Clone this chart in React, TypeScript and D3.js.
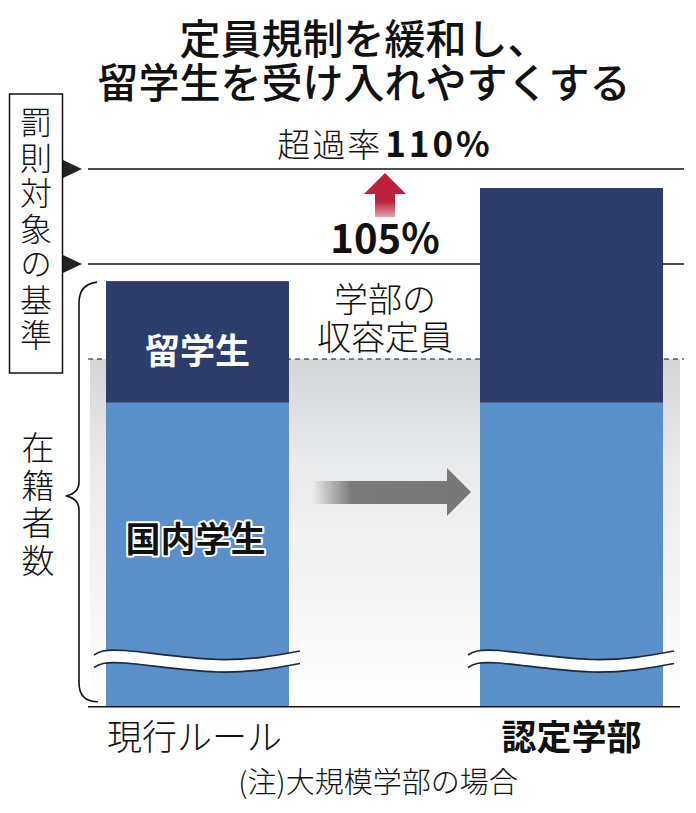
import React from "react";
import * as d3 from "d3";

const categories = ["現行ルール", "認定学部"];
const categoryBold = [false, true];
const domesticTop = [97.7, 97.7];
const totalTop = [104.1, 109.0];
const thresholds = [105, 110];
const thresholdLabels = ["105%", "110%"];
const capacity = 100;
const baseValue = 81.7;
const titleLines = ["定員規制を緩和し、", "留学生を受け入れやすくする"];
const sideTop = "罰則対象の基準";
const sideBottom = "在籍者数";
const capacityLabel = ["学部の", "収容定員"];
const segLabels = ["留学生", "国内学生"];
const note = "(注)大規模学部の場合";

const W = 696;
const H = 813;
const FONT = "'Noto Sans CJK JP', 'Noto Sans', sans-serif";

export default function App() {
  const y = d3.scaleLinear().domain([100, 110]).range([359, 169]);
  const x = d3.scalePoint<string>().domain(categories).range([197.5, 571.5]);
  const barW = 183;
  const lineX0 = 88;
  const lineX1 = 684;
  const yBase = y(baseValue);

  const waveNorm: [number, number][] = [
    [0, 4], [0.15, -0.5], [0.6, 8.5], [1, 0],
  ];
  const waveLine = (x0: number, x1: number, yc: number) =>
    d3.line<[number, number]>()
      .x((d) => x0 + d[0] * (x1 - x0))
      .y((d) => yc + d[1])
      .curve(d3.curveNatural)(waveNorm) as string;
  const waveArea = (x0: number, x1: number, yc: number, th: number) =>
    d3.area<[number, number]>()
      .x((d) => x0 + d[0] * (x1 - x0))
      .y0((d) => yc + d[1])
      .y1((d) => yc + d[1] + th)
      .curve(d3.curveNatural)(waveNorm) as string;

  const yBreak = 651;
  const leftBarTop = y(totalTop[0]);
  const braceX = 79;
  const braceMid = (leftBarTop + yBase) / 2 + 2;
  const bracePath = `M ${braceX + 18} ${leftBarTop + 1} Q ${braceX} ${leftBarTop + 3} ${braceX} ${leftBarTop + 22}
    L ${braceX} ${braceMid - 14} Q ${braceX} ${braceMid - 3} ${braceX - 13} ${braceMid}
    Q ${braceX} ${braceMid + 3} ${braceX} ${braceMid + 14}
    L ${braceX} ${yBase - 24} Q ${braceX} ${yBase - 5} ${braceX + 19} ${yBase - 5}`;

  const redCx = 385;
  const grayY = 492;

  return (
    <svg width={W} height={H} viewBox={`0 0 ${W} ${H}`}
      style={{ position: "absolute", left: 0, top: 0, background: "#fff" }}
      fontFamily={FONT}>
      <defs>
        <linearGradient id="grayBand" x1="0" y1="0" x2="0" y2="1">
          <stop offset="0" stopColor="#d3d5d7" />
          <stop offset="0.3" stopColor="#e9eaeb" />
          <stop offset="0.65" stopColor="#f4f4f4" />
          <stop offset="1" stopColor="#ffffff" />
        </linearGradient>
        <linearGradient id="redArrow" x1="0" y1="0" x2="0" y2="1">
          <stop offset="0" stopColor="#c01f3a" />
          <stop offset="0.65" stopColor="#bb223b" />
          <stop offset="1" stopColor="#e7a3ad" />
        </linearGradient>
        <linearGradient id="grayArrow" x1="0" y1="0" x2="1" y2="0">
          <stop offset="0" stopColor="#7a7a7a" stopOpacity="0" />
          <stop offset="0.25" stopColor="#7a7a7a" stopOpacity="1" />
          <stop offset="1" stopColor="#777" />
        </linearGradient>
      </defs>

      {/* title */}
      <text textAnchor="middle" fontSize={41} fontWeight={500} fill="#111">
        {titleLines.map((t, i) => (
          <tspan key={t} x={364} y={54 + i * 44}>{t}</tspan>
        ))}
      </text>

      {/* gray band under capacity */}
      <rect x={lineX0 + 2} y={y(capacity)} width={lineX1 - lineX0 - 6}
        height={yBase - y(capacity)} fill="url(#grayBand)" />

      {/* threshold lines */}
      {thresholds.map((v) => (
        <g key={v}>
          <line x1={lineX0} x2={lineX1} y1={y(v)} y2={y(v)} stroke="#111" strokeWidth={1.6} />
          <path d={`M 63 ${y(v) - 9} L 82 ${y(v)} L 63 ${y(v) + 9} Z`} fill="#222" />
        </g>
      ))}

      {/* capacity dashed line */}
      <line x1={lineX0} x2={lineX1} y1={y(capacity)} y2={y(capacity)}
        stroke="#111" strokeWidth={1.2} strokeDasharray="5,4" />

      {/* bars */}
      {categories.map((c, i) => {
        const cx = x(c) as number;
        return (
          <g key={c}>
            <rect x={cx - barW / 2} y={y(domesticTop[i])} width={barW}
              height={yBase - y(domesticTop[i])} fill="#5b8fc9" />
            <rect x={cx - barW / 2} y={y(totalTop[i])} width={barW}
              height={y(domesticTop[i]) - y(totalTop[i])} fill="#2c3d6b" />
          </g>
        );
      })}

      {/* wave breaks */}
      {categories.map((c) => {
        const cx = x(c) as number;
        const x0 = cx - barW / 2 - 12;
        const x1 = cx + barW / 2 + 11;
        return (
          <g key={"w" + c}>
            <path d={waveArea(x0, x1, yBreak, 12)} fill="#fff" />
            <path d={waveLine(x0, x1, yBreak)} fill="none" stroke="#1d2a3c" strokeWidth={1.7} />
            <path d={waveLine(x0, x1, yBreak + 12.5)} fill="none" stroke="#1d2a3c" strokeWidth={1.7} />
          </g>
        );
      })}

      {/* baseline */}
      <line x1={lineX0} x2={680} y1={yBase} y2={yBase} stroke="#111" strokeWidth={1.6} />

      {/* segment labels */}
      <text x={(x(categories[0]) as number)} y={364} textAnchor="middle" fontSize={35}
        fontWeight={700} fill="#fff">{segLabels[0]}</text>
      <text x={(x(categories[0]) as number) - 2} y={552} textAnchor="middle" fontSize={35}
        fontWeight={700} fill="#111" stroke="#fff" strokeWidth={4}
        strokeLinejoin="round" style={{ paintOrder: "stroke" }}>{segLabels[1]}</text>

      {/* threshold labels */}
      <text x={385} y={157} textAnchor="middle" fill="#111">
        <tspan fontSize={33} fontWeight={300} letterSpacing={2}>超過率</tspan>
        <tspan fontSize={35} fontWeight={700} dx={3} letterSpacing={3}>{thresholdLabels[1]}</tspan>
      </text>
      <text x={385} y={253} textAnchor="middle" fontSize={40} fontWeight={700}
        fill="#111">{thresholdLabels[0]}</text>

      {/* red arrow */}
      <path d={`M ${redCx} ${y(110) + 4} L ${redCx + 21} ${y(110) + 25} L ${redCx + 10} ${y(110) + 25}
        L ${redCx + 10} ${y(110) + 48} L ${redCx - 10} ${y(110) + 48} L ${redCx - 10} ${y(110) + 25}
        L ${redCx - 21} ${y(110) + 25} Z`} fill="url(#redArrow)" />

      {/* capacity label */}
      <text textAnchor="middle" fontSize={34} fontWeight={300} fill="#111">
        {capacityLabel.map((t, i) => (
          <tspan key={t} x={385} y={312 + i * 38}>{t}</tspan>
        ))}
      </text>

      {/* gray arrow */}
      <path d={`M 312 ${grayY - 11} L 447 ${grayY - 11} L 447 ${grayY - 24} L 471 ${grayY}
        L 447 ${grayY + 24} L 447 ${grayY + 12} L 312 ${grayY + 12} Z`} fill="url(#grayArrow)" />

      {/* left box */}
      <rect x={9.5} y={94} width={53} height={279} fill="#fff" stroke="#111" strokeWidth={1.5} />
      <text x={36} y={106} fontSize={32} fontWeight={300} fill="#111"
        style={{ writingMode: "vertical-rl", letterSpacing: "3.5px" }}>{sideTop}</text>

      {/* brace and label */}
      <path d={bracePath} fill="none" stroke="#111" strokeWidth={1.6} />
      <text x={38} y={431} fontSize={33} fontWeight={300} fill="#111"
        style={{ writingMode: "vertical-rl", letterSpacing: "4.5px" }}>{sideBottom}</text>

      {/* category labels */}
      {categories.map((c, i) => (
        <text key={"c" + c} x={(x(c) as number) + (i === 0 ? -3 : 0)} y={750} textAnchor="middle"
          fontSize={35} fontWeight={categoryBold[i] ? 700 : 300} fill="#111">{c}</text>
      ))}

      {/* note */}
      <text x={378} y={793} textAnchor="middle" fontSize={29} fontWeight={300} fill="#111">{note}</text>
    </svg>
  );
}
